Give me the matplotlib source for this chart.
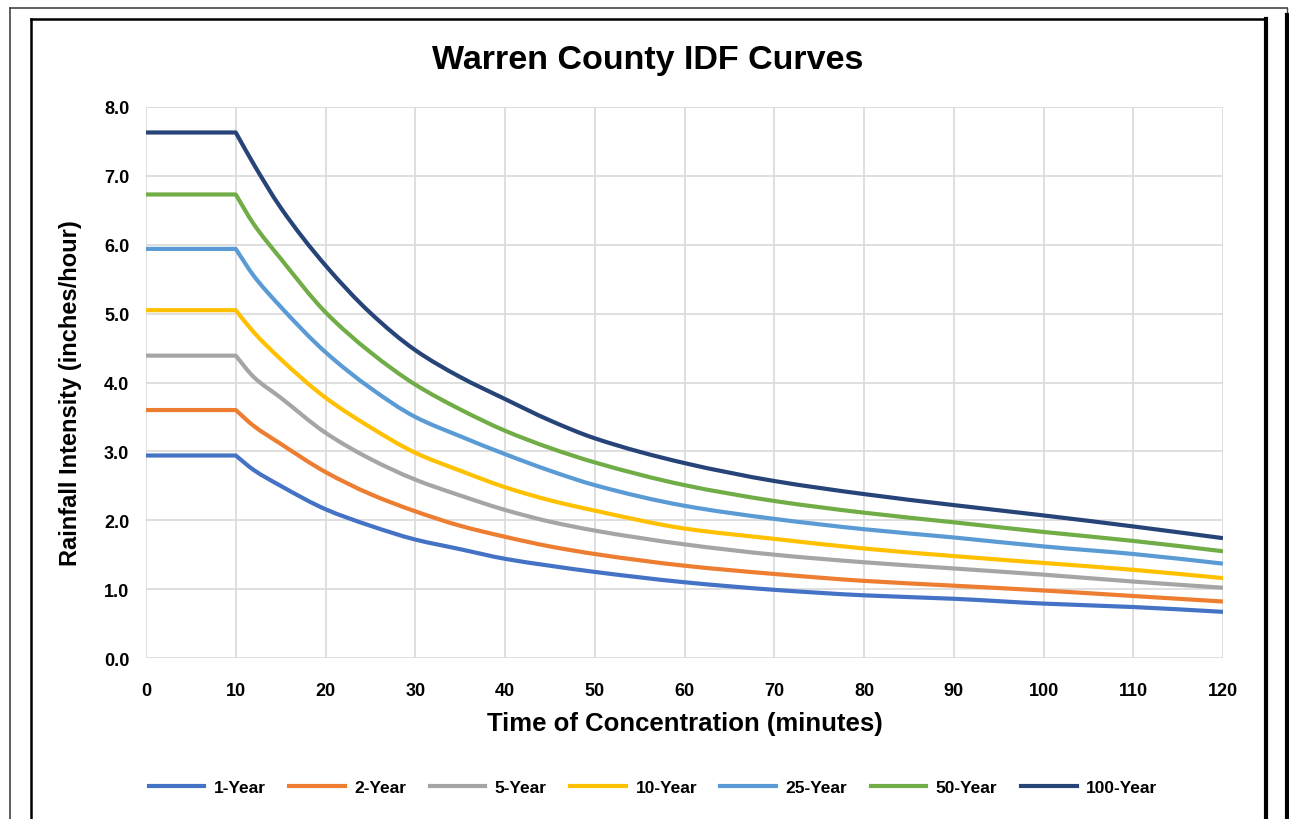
import matplotlib
matplotlib.use('Agg')
from matplotlib import pyplot as plt
from matplotlib.lines import Line2D
from matplotlib.path import Path
from matplotlib.patches import PathPatch
import numpy as np

plt.rcParams['font.family'] = ['Liberation Sans', 'DejaVu Sans']

# minutes
times = [0, 10, 12, 15, 20, 25, 30, 35, 40, 45, 50, 60, 70, 80, 90, 100, 110, 120]

# rainfall intensity (inches/hour)
yr1 = [2.94, 2.94, 2.73, 2.50, 2.16, 1.92, 1.72, 1.58, 1.44, 1.34, 1.25, 1.10, 0.99, 0.91, 0.86, 0.79, 0.74, 0.67]
yr2 = [3.60, 3.60, 3.37, 3.11, 2.70, 2.38, 2.13, 1.92, 1.76, 1.62, 1.51, 1.34, 1.22, 1.12, 1.05, 0.98, 0.90, 0.82]
yr5 = [4.39, 4.39, 4.08, 3.78, 3.27, 2.89, 2.59, 2.36, 2.15, 1.98, 1.85, 1.65, 1.50, 1.39, 1.30, 1.21, 1.11, 1.02]
yr10 = [5.05, 5.05, 4.73, 4.34, 3.78, 3.35, 2.98, 2.72, 2.48, 2.29, 2.14, 1.88, 1.73, 1.59, 1.48, 1.38, 1.28, 1.16]
yr25 = [5.94, 5.94, 5.55, 5.10, 4.44, 3.92, 3.50, 3.22, 2.96, 2.72, 2.51, 2.21, 2.02, 1.87, 1.75, 1.62, 1.51, 1.37]
yr50 = [6.73, 6.73, 6.30, 5.80, 5.02, 4.44, 3.97, 3.61, 3.30, 3.05, 2.84, 2.51, 2.28, 2.11, 1.97, 1.83, 1.70, 1.55]
yr100 = [7.63, 7.63, 7.17, 6.54, 5.70, 5.01, 4.47, 4.08, 3.76, 3.45, 3.19, 2.83, 2.57, 2.38, 2.22, 2.07, 1.91, 1.74]

labels = ['1-Year', '2-Year', '5-Year', '10-Year', '25-Year', '50-Year', '100-Year']
colors = ['#4472C4', '#ED7D31', '#A5A5A5', '#FFC000', '#5B9BD5', '#70AD47', '#264478']
series = [yr1, yr2, yr5, yr10, yr25, yr50, yr100]

W, H = 1289, 820
fig = plt.figure(figsize=(W / 100, H / 100), dpi=100)


def fx(px):
    return px / W


def fy(py):
    return 1 - py / H


def smooth_path(x, y, knee=10):
    # flat part drawn straight, the decay drawn as a smoothed (excel-like) curve
    x = np.asarray(x, float)
    y = np.asarray(y, float)
    i0 = int(np.where(x == knee)[0][0])
    verts = [(x[0], y[0]), (x[i0], y[i0])]
    codes = [Path.MOVETO, Path.LINETO]
    xs, ys = x[i0:], y[i0:]
    h = np.diff(xs)
    d = np.diff(ys) / h
    m = np.zeros(len(xs))
    m[0], m[-1] = d[0], d[-1]
    for k in range(1, len(xs) - 1):
        if d[k - 1] * d[k] > 0:
            w1 = 2 * h[k] + h[k - 1]
            w2 = h[k] + 2 * h[k - 1]
            m[k] = (w1 + w2) / (w1 / d[k - 1] + w2 / d[k])
    for k in range(len(xs) - 1):
        verts += [(xs[k] + h[k] / 3, ys[k] + m[k] * h[k] / 3),
                  (xs[k + 1] - h[k] / 3, ys[k + 1] - m[k + 1] * h[k] / 3),
                  (xs[k + 1], ys[k + 1])]
        codes += [Path.CURVE4] * 3
    return Path(verts, codes)


ax = fig.add_axes([fx(146), fy(659), fx(1223) - fx(146), fy(108) - fy(659)])

handles = []
for vals, lab, col in zip(series, labels, colors):
    ax.add_patch(PathPatch(smooth_path(times, vals), fill=False, edgecolor=col,
                           lw=3, capstyle='butt', joinstyle='round'))
    handles.append(Line2D([], [], color=col, lw=3, label=lab))

ax.set_xlim(0, 120)
ax.set_ylim(0, 8)
ax.set_xticks(np.arange(0, 121, 10))
ax.set_yticks(np.arange(0, 8.1, 1))
ax.set_yticklabels(['%.1f' % v for v in np.arange(0, 8.1, 1)])
ax.grid(True, color='#d9d9d9', lw=1.2)
ax.set_axisbelow(True)
for s in ax.spines.values():
    s.set_visible(False)
ax.tick_params(axis='x', length=0, labelsize=13, pad=17)
ax.tick_params(axis='y', length=0, labelsize=13, pad=12)
for t in ax.get_xticklabels() + ax.get_yticklabels():
    t.set_fontweight('bold')

ax.set_xlabel('Time of Concentration (minutes)', fontsize=18.5, fontweight='bold', labelpad=9)
ax.set_ylabel('Rainfall Intensity (inches/hour)', fontsize=17, fontweight='bold')
ax.yaxis.set_label_coords(-0.059, 0.483)
fig.text(fx(648), fy(61), 'Warren County IDF Curves', fontsize=24.5, fontweight='bold',
         ha='center', va='center')

fig.legend(handles=handles, loc='center', bbox_to_anchor=(fx(653), fy(788)), ncol=7,
           frameon=False, prop={'weight': 'bold', 'size': 12.5}, handlelength=3.2,
           columnspacing=1.35, handletextpad=0.55)


# page frame lines
def frame_line(xs, ys, lw, col='black'):
    fig.add_artist(Line2D([fx(x) for x in xs], [fy(y) for y in ys],
                          transform=fig.transFigure, color=col, lw=lw))


frame_line([10, 1287], [9, 9], 1.2, '#444444')
frame_line([10, 10], [9, 820], 1.2, '#444444')
frame_line([1287, 1287], [9, 16], 1.0, '#444444')
frame_line([1287, 1287], [16, 820], 3)
frame_line([31, 1266], [20, 20], 1.8)
frame_line([31, 31], [20, 820], 1.8)
frame_line([1266, 1266], [20, 820], 3)

plt.savefig('out.png', dpi=100)
